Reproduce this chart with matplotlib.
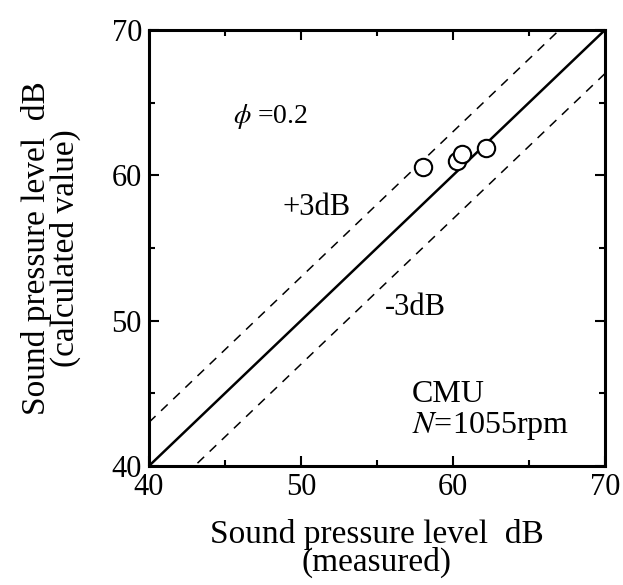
import matplotlib
matplotlib.use("Agg")
import matplotlib.pyplot as plt

# measured vs calculated SPL (dB), phi = 0.2
measured = [58.0, 60.3, 60.6, 62.2]
calculated = [60.6, 61.0, 61.5, 61.9]
diag = [40, 70]
offset = 3

plt.rcParams['font.family'] = ['Liberation Serif', 'DejaVu Serif']
plt.rcParams['mathtext.fontset'] = 'stix'

fig = plt.figure(figsize=(6.23, 5.85), dpi=100)
ax = fig.add_axes([0.239, 0.2034, 0.732, 0.7453])

ax.plot(diag, diag, color='black', lw=1.8)
ax.plot(diag, [d + offset for d in diag], color='black', lw=1.1, ls=(0, (6, 5)))
ax.plot(diag, [d - offset for d in diag], color='black', lw=1.1, ls=(0, (6, 5)))
ax.plot(measured, calculated, 'o', mfc='white', mec='black', mew=1.5, ms=12.5)

ax.set_xlim(40, 70)
ax.set_ylim(40, 70)
ax.set_xticks([40, 50, 60, 70])
ax.set_yticks([40, 50, 60, 70])
ax.set_xticks([45, 55, 65], minor=True)
ax.set_yticks([45, 55, 65], minor=True)
ax.tick_params(which='both', direction='in', top=True, right=True, labelsize=22, width=1.5)
ax.tick_params(which='major', length=7, pad=5)
ax.tick_params(which='minor', length=4)
for s in ax.spines.values():
    s.set_linewidth(2.2)

ax.text(45.5, 63.6, r'$\phi$ =0.2', fontsize=20, va='baseline')
ax.text(48.8, 57.3, '+3dB', fontsize=22, va='baseline')
ax.text(55.5, 50.4, '-3dB', fontsize=22, va='baseline')
ax.text(57.3, 44.4, 'CMU', fontsize=23, va='baseline')
ax.text(57.3, 42.3, r'$\it{N}$=1055rpm', fontsize=23, va='baseline')

ax.set_xlabel('Sound pressure level  dB\n(measured)', fontsize=24, labelpad=12, linespacing=0.9)
ax.set_ylabel('Sound pressure level  dB\n(calculated value)', fontsize=24, labelpad=22, linespacing=0.9)

fig.savefig('out.png', dpi=100)
